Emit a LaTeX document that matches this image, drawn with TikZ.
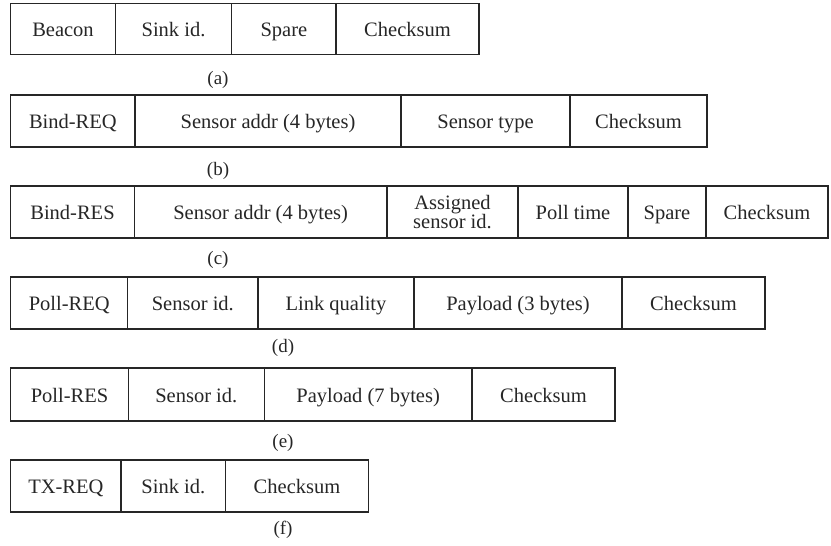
\documentclass[tikz,border=0pt]{standalone}
\usepackage{fontspec}
\setmainfont{Liberation Serif}
\begin{document}
\begin{tikzpicture}[x=1pt,y=-1pt,
  cellbase/.style={draw=black!85, line width=1.2pt, inner sep=0pt, outer sep=0pt,
    font=\fontsize{20.5}{19}\selectfont, align=center, text=black!85},
  cell/.style={cellbase, text height=19pt, text depth=4pt},
  sublabel/.style={inner sep=0pt, font=\fontsize{19}{19}\selectfont, text=black!85}]
\useasboundingbox (0,0) rectangle (831,546);
% (a)
\node[cell, minimum width=104.6pt, minimum height=51pt] (a1) at (63,29) {Beacon};
\node[cell, minimum width=116.4pt, minimum height=51pt] (a2) at (173.5,29) {Sink id.};
\node[cell, minimum width=104.3pt, minimum height=51pt] (a3) at (283.85,29) {Spare};
\node[cell, minimum width=143pt, minimum height=51pt] (a4) at (407.5,29) {Checksum};
\node[sublabel] (la) at (218,80) {(a)};
% (b)
\node[cell, minimum width=124.3pt, minimum height=52pt] (b1) at (72.85,121) {Bind-REQ};
\node[cell, minimum width=266pt, minimum height=52pt] (b2) at (268,121) {Sensor addr (4 bytes)};
\node[cell, minimum width=169pt, minimum height=52pt] (b3) at (485.5,121) {Sensor type};
\node[cell, minimum width=137pt, minimum height=52pt] (b4) at (638.5,121) {Checksum};
\node[sublabel] (lb) at (218,171) {(b)};
% (c)
\node[cell, minimum width=123.6pt, minimum height=52pt] (c1) at (72.5,212) {Bind-RES};
\node[cell, minimum width=252.7pt, minimum height=52pt] (c2) at (260.65,212) {Sensor addr (4 bytes)};
\node[cellbase, minimum width=131pt, minimum height=52pt] (c3) at (452.5,212) {Assigned\\sensor id.};
\node[cell, minimum width=110pt, minimum height=52pt] (c4) at (573,212) {Poll time};
\node[cell, minimum width=78pt, minimum height=52pt] (c5) at (667,212) {Spare};
\node[cell, minimum width=122pt, minimum height=52pt] (c6) at (767,212) {Checksum};
\node[sublabel] (lc) at (218,260) {(c)};
% (d)
\node[cell, minimum width=117pt, minimum height=52pt] (d1) at (69.2,303) {Poll-REQ};
\node[cell, minimum width=130.3pt, minimum height=52pt] (d2) at (192.85,303) {Sensor id.};
\node[cell, minimum width=156pt, minimum height=52pt] (d3) at (336,303) {Link quality};
\node[cell, minimum width=208pt, minimum height=52pt] (d4) at (518,303) {Payload (3 bytes)};
\node[cell, minimum width=143pt, minimum height=52pt] (d5) at (693.5,303) {Checksum};
\node[sublabel] (ld) at (283,348) {(d)};
% (e)
\node[cell, minimum width=117.6pt, minimum height=53pt] (e1) at (69.5,394.5) {Poll-RES};
\node[cell, minimum width=136pt, minimum height=53pt] (e2) at (196.3,394.5) {Sensor id.};
\node[cell, minimum width=207.7pt, minimum height=53pt] (e3) at (368.15,394.5) {Payload (7 bytes)};
\node[cell, minimum width=143pt, minimum height=53pt] (e4) at (543.5,394.5) {Checksum};
\node[sublabel] (le) at (283,443) {(e)};
% (f)
\node[cell, minimum width=110.3pt, minimum height=52pt] (f1) at (65.85,486) {TX-REQ};
\node[cell, minimum width=104.7pt, minimum height=52pt] (f2) at (173.35,486) {Sink id.};
\node[cell, minimum width=142.6pt, minimum height=52pt] (f3) at (297,486) {Checksum};
\node[sublabel] (lf) at (283,530) {(f)};
\end{tikzpicture}
\end{document}
